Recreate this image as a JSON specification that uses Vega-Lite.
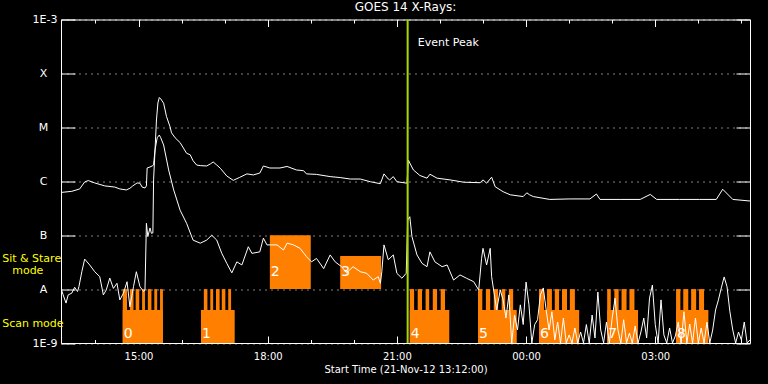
{
  "$schema": "https://vega.github.io/schema/vega-lite/v6.json",
  "width": 689,
  "height": 323.5,
  "autosize": {"type": "none"},
  "padding": {"left": 61, "top": 19.5, "right": 18, "bottom": 41},
  "background": "black",
  "config": {
    "view": {"stroke": "white", "strokeWidth": 1},
    "font": "DejaVu Sans",
    "axis": {"domain": false, "labelColor": "white", "tickColor": "white", "titleColor": "white", "labelFont": "DejaVu Sans", "titleFont": "DejaVu Sans", "titleFontWeight": "normal"}
  },
  "title": {"text": "GOES 14 X-Rays:", "color": "white", "fontSize": 12, "fontWeight": "normal", "font": "DejaVu Sans", "frame": "group", "anchor": "middle", "baseline": "middle", "offset": -5},
  "datasets": {
    "upper": [
      {"t":"2012-11-21T13:12","f":6.2e-7},{"t":"2012-11-21T13:27","f":6.5e-7},{"t":"2012-11-21T13:38","f":7.2e-7},{"t":"2012-11-21T13:45","f":9.7e-7},{"t":"2012-11-21T13:50","f":1.03e-6},{"t":"2012-11-21T13:59","f":9.3e-7},{"t":"2012-11-21T14:13","f":8.2e-7},{"t":"2012-11-21T14:27","f":7.8e-7},{"t":"2012-11-21T14:34","f":7.2e-7},{"t":"2012-11-21T14:43","f":6.9e-7},{"t":"2012-11-21T14:48","f":7.4e-7},{"t":"2012-11-21T14:52","f":8.2e-7},{"t":"2012-11-21T14:58","f":9.3e-7},{"t":"2012-11-21T15:02","f":9.2e-7},{"t":"2012-11-21T15:05","f":7.8e-7},{"t":"2012-11-21T15:09","f":7.5e-7},{"t":"2012-11-21T15:11","f":8.2e-7},{"t":"2012-11-21T15:12","f":1.76e-6},{"t":"2012-11-21T15:16","f":1.84e-6},{"t":"2012-11-21T15:19","f":1.92e-6},{"t":"2012-11-21T15:21","f":2.01e-6},{"t":"2012-11-21T15:23","f":3.81e-6},{"t":"2012-11-21T15:25","f":1.37e-5},{"t":"2012-11-21T15:27","f":2.83e-5},{"t":"2012-11-21T15:29","f":3.58e-5},{"t":"2012-11-21T15:31","f":3.36e-5},{"t":"2012-11-21T15:35","f":2.8e-5},{"t":"2012-11-21T15:39","f":1.58e-5},{"t":"2012-11-21T15:44","f":1.02e-5},{"t":"2012-11-21T15:46","f":7.9e-6},{"t":"2012-11-21T15:51","f":6.4e-6},{"t":"2012-11-21T15:58","f":5.2e-6},{"t":"2012-11-21T16:07","f":3.3e-6},{"t":"2012-11-21T16:12","f":3.1e-6},{"t":"2012-11-21T16:16","f":2.4e-6},{"t":"2012-11-21T16:21","f":2.0e-6},{"t":"2012-11-21T16:26","f":1.95e-6},{"t":"2012-11-21T16:35","f":1.92e-6},{"t":"2012-11-21T16:40","f":2.09e-6},{"t":"2012-11-21T16:44","f":2.28e-6},{"t":"2012-11-21T16:49","f":2.0e-6},{"t":"2012-11-21T16:54","f":1.74e-6},{"t":"2012-11-21T17:03","f":1.25e-6},{"t":"2012-11-21T17:12","f":1.04e-6},{"t":"2012-11-21T17:21","f":1.18e-6},{"t":"2012-11-21T17:31","f":1.37e-6},{"t":"2012-11-21T17:40","f":1.31e-6},{"t":"2012-11-21T17:49","f":1.42e-6},{"t":"2012-11-21T17:54","f":1.92e-6},{"t":"2012-11-21T18:03","f":1.76e-6},{"t":"2012-11-21T18:17","f":1.76e-6},{"t":"2012-11-21T18:27","f":1.88e-6},{"t":"2012-11-21T18:40","f":1.62e-6},{"t":"2012-11-21T18:50","f":1.57e-6},{"t":"2012-11-21T18:54","f":1.37e-6},{"t":"2012-11-21T19:08","f":1.34e-6},{"t":"2012-11-21T19:27","f":1.22e-6},{"t":"2012-11-21T19:41","f":1.17e-6},{"t":"2012-11-21T19:55","f":1.1e-6},{"t":"2012-11-21T20:09","f":1.1e-6},{"t":"2012-11-21T20:23","f":9.8e-7},{"t":"2012-11-21T20:37","f":9.0e-7},{"t":"2012-11-21T20:42","f":1.37e-6},{"t":"2012-11-21T20:48","f":1.1e-6},{"t":"2012-11-21T20:50","f":1.06e-6},{"t":"2012-11-21T20:55","f":1.22e-6},{"t":"2012-11-21T21:00","f":9.8e-7},{"t":"2012-11-21T21:14","f":9.2e-7},{"t":"2012-11-21T21:16","f":2.48e-6},{"t":"2012-11-21T21:18","f":2.18e-6},{"t":"2012-11-21T21:23","f":1.62e-6},{"t":"2012-11-21T21:32","f":1.28e-6},{"t":"2012-11-21T21:42","f":1.14e-6},{"t":"2012-11-21T21:46","f":1.35e-6},{"t":"2012-11-21T21:56","f":1.14e-6},{"t":"2012-11-21T22:14","f":1.06e-6},{"t":"2012-11-21T22:33","f":9.6e-7},{"t":"2012-11-21T22:56","f":9.4e-7},{"t":"2012-11-21T23:00","f":1.06e-6},{"t":"2012-11-21T23:05","f":9.2e-7},{"t":"2012-11-21T23:12","f":1.19e-6},{"t":"2012-11-21T23:17","f":7.9e-7},{"t":"2012-11-21T23:28","f":6.4e-7},{"t":"2012-11-21T23:38","f":5.6e-7},{"t":"2012-11-21T23:56","f":5.2e-7},{"t":"2012-11-22T00:01","f":6.1e-7},{"t":"2012-11-22T00:05","f":5.6e-7},{"t":"2012-11-22T00:10","f":5.2e-7},{"t":"2012-11-22T00:33","f":4.6e-7},{"t":"2012-11-22T01:01","f":4.7e-7},{"t":"2012-11-22T01:29","f":4.7e-7},{"t":"2012-11-22T01:38","f":5.8e-7},{"t":"2012-11-22T01:43","f":4.6e-7},{"t":"2012-11-22T02:11","f":4.6e-7},{"t":"2012-11-22T02:39","f":4.6e-7},{"t":"2012-11-22T02:53","f":5.7e-7},{"t":"2012-11-22T03:02","f":4.6e-7},{"t":"2012-11-22T03:34","f":4.6e-7},{"t":"2012-11-22T04:02","f":4.6e-7},{"t":"2012-11-22T04:25","f":4.6e-7},{"t":"2012-11-22T04:34","f":7.1e-7},{"t":"2012-11-22T04:48","f":4.6e-7},{"t":"2012-11-22T05:12","f":4.3e-7}
    ],
    "lower": [
      {"t":"2012-11-21T13:12","f":1.03e-8},{"t":"2012-11-21T13:15","f":7.8e-9},{"t":"2012-11-21T13:19","f":5.5e-9},{"t":"2012-11-21T13:22","f":7.8e-9},{"t":"2012-11-21T13:27","f":8.4e-9},{"t":"2012-11-21T13:31","f":1.08e-8},{"t":"2012-11-21T13:35","f":9.0e-9},{"t":"2012-11-21T13:37","f":1.11e-8},{"t":"2012-11-21T13:41","f":2.1e-8},{"t":"2012-11-21T13:45","f":3.6e-8},{"t":"2012-11-21T13:52","f":2.8e-8},{"t":"2012-11-21T13:59","f":2.1e-8},{"t":"2012-11-21T14:06","f":1.7e-8},{"t":"2012-11-21T14:11","f":7.8e-9},{"t":"2012-11-21T14:15","f":9.6e-9},{"t":"2012-11-21T14:20","f":1.6e-8},{"t":"2012-11-21T14:25","f":1.03e-8},{"t":"2012-11-21T14:30","f":1.28e-8},{"t":"2012-11-21T14:34","f":6.3e-9},{"t":"2012-11-21T14:39","f":8.4e-9},{"t":"2012-11-21T14:44","f":1.37e-8},{"t":"2012-11-21T14:48","f":4.7e-9},{"t":"2012-11-21T14:53","f":1.11e-8},{"t":"2012-11-21T14:57","f":2.1e-8},{"t":"2012-11-21T15:02","f":1.11e-8},{"t":"2012-11-21T15:07","f":9.0e-9},{"t":"2012-11-21T15:09","f":9.6e-9},{"t":"2012-11-21T15:11","f":1.66e-7},{"t":"2012-11-21T15:13","f":9.4e-8},{"t":"2012-11-21T15:16","f":1.36e-7},{"t":"2012-11-21T15:18","f":1.08e-7},{"t":"2012-11-21T15:20","f":1.1e-7},{"t":"2012-11-21T15:21","f":1.06e-6},{"t":"2012-11-21T15:23","f":3.8e-6},{"t":"2012-11-21T15:26","f":6.4e-6},{"t":"2012-11-21T15:29","f":7.2e-6},{"t":"2012-11-21T15:31","f":6.4e-6},{"t":"2012-11-21T15:35","f":4.7e-6},{"t":"2012-11-21T15:42","f":1.62e-6},{"t":"2012-11-21T15:49","f":6.9e-7},{"t":"2012-11-21T15:58","f":2.9e-7},{"t":"2012-11-21T16:07","f":1.66e-7},{"t":"2012-11-21T16:16","f":8.1e-8},{"t":"2012-11-21T16:26","f":7.1e-8},{"t":"2012-11-21T16:35","f":8.1e-8},{"t":"2012-11-21T16:42","f":1.0e-7},{"t":"2012-11-21T16:49","f":8.1e-8},{"t":"2012-11-21T16:56","f":4.6e-8},{"t":"2012-11-21T17:03","f":3.0e-8},{"t":"2012-11-21T17:10","f":2.0e-8},{"t":"2012-11-21T17:17","f":3.2e-8},{"t":"2012-11-21T17:24","f":2.8e-8},{"t":"2012-11-21T17:33","f":6.1e-8},{"t":"2012-11-21T17:38","f":4.6e-8},{"t":"2012-11-21T17:49","f":4.9e-8},{"t":"2012-11-21T17:54","f":8.8e-8},{"t":"2012-11-21T17:59","f":6.6e-8},{"t":"2012-11-21T18:13","f":6.6e-8},{"t":"2012-11-21T18:22","f":5.3e-8},{"t":"2012-11-21T18:27","f":7.1e-8},{"t":"2012-11-21T18:36","f":6.6e-8},{"t":"2012-11-21T18:45","f":5.7e-8},{"t":"2012-11-21T18:54","f":4.0e-8},{"t":"2012-11-21T19:01","f":3.2e-8},{"t":"2012-11-21T19:08","f":3.7e-8},{"t":"2012-11-21T19:18","f":2.4e-8},{"t":"2012-11-21T19:27","f":4.3e-8},{"t":"2012-11-21T19:34","f":3.2e-8},{"t":"2012-11-21T19:43","f":2.6e-8},{"t":"2012-11-21T19:50","f":2.0e-8},{"t":"2012-11-21T19:59","f":2.6e-8},{"t":"2012-11-21T20:09","f":2.1e-8},{"t":"2012-11-21T20:18","f":1.96e-8},{"t":"2012-11-21T20:27","f":1.47e-8},{"t":"2012-11-21T20:34","f":1.7e-8},{"t":"2012-11-21T20:37","f":1.28e-8},{"t":"2012-11-21T20:39","f":2.1e-8},{"t":"2012-11-21T20:42","f":6.6e-8},{"t":"2012-11-21T20:48","f":3.5e-8},{"t":"2012-11-21T20:55","f":4.3e-8},{"t":"2012-11-21T21:00","f":1.96e-8},{"t":"2012-11-21T21:07","f":1.59e-8},{"t":"2012-11-21T21:13","f":1.96e-8},{"t":"2012-11-21T21:15","f":1.9e-7},{"t":"2012-11-21T21:18","f":2.2e-7},{"t":"2012-11-21T21:21","f":9.4e-8},{"t":"2012-11-21T21:28","f":4.3e-8},{"t":"2012-11-21T21:35","f":3.0e-8},{"t":"2012-11-21T21:42","f":2.6e-8},{"t":"2012-11-21T21:46","f":4.9e-8},{"t":"2012-11-21T21:53","f":3.2e-8},{"t":"2012-11-21T22:03","f":2.6e-8},{"t":"2012-11-21T22:10","f":2.8e-8},{"t":"2012-11-21T22:19","f":1.47e-8},{"t":"2012-11-21T22:28","f":1.83e-8},{"t":"2012-11-21T22:37","f":1.59e-8},{"t":"2012-11-21T22:47","f":1.37e-8},{"t":"2012-11-21T22:54","f":9.6e-9},{"t":"2012-11-21T22:58","f":3.7e-8},{"t":"2012-11-21T23:00","f":5.7e-8},{"t":"2012-11-21T23:05","f":2.8e-8},{"t":"2012-11-21T23:10","f":5.7e-8},{"t":"2012-11-21T23:12","f":1.7e-8},{"t":"2012-11-21T23:19","f":4.1e-9},
      {"t":"2012-11-21T23:24","f":9.6e-9},{"t":"2012-11-21T23:28","f":6.3e-9},{"t":"2012-11-21T23:32","f":2.9e-9},{"t":"2012-11-21T23:36","f":7.8e-9},{"t":"2012-11-21T23:40","f":1e-9},{"t":"2012-11-21T23:44","f":3.3e-9},{"t":"2012-11-21T23:48","f":1.74e-9},{"t":"2012-11-21T23:52","f":5.1e-9},{"t":"2012-11-21T23:56","f":2.2e-9},
      {"t":"2012-11-22T00:00","f":1.35e-8},{"t":"2012-11-22T00:04","f":5.1e-9},{"t":"2012-11-22T00:08","f":1e-9},{"t":"2012-11-22T00:12","f":2.2e-9},{"t":"2012-11-22T00:16","f":2.7e-9},{"t":"2012-11-22T00:20","f":7.8e-9},{"t":"2012-11-22T00:24","f":1.05e-8},{"t":"2012-11-22T00:28","f":4.1e-9},{"t":"2012-11-22T00:32","f":1.74e-9},{"t":"2012-11-22T00:36","f":3.8e-9},{"t":"2012-11-22T00:40","f":1.14e-9},{"t":"2012-11-22T00:44","f":2.45e-9},{"t":"2012-11-22T00:48","f":1e-9},{"t":"2012-11-22T00:52","f":2.9e-9},{"t":"2012-11-22T00:56","f":1e-9},
      {"t":"2012-11-22T01:00","f":1.41e-9},{"t":"2012-11-22T01:04","f":1e-9},{"t":"2012-11-22T01:08","f":1.9e-9},{"t":"2012-11-22T01:12","f":1e-9},{"t":"2012-11-22T01:16","f":1.6e-9},{"t":"2012-11-22T01:20","f":1e-9},{"t":"2012-11-22T01:24","f":2.2e-9},{"t":"2012-11-22T01:28","f":1e-9},{"t":"2012-11-22T01:32","f":3.3e-9},{"t":"2012-11-22T01:36","f":1.24e-9},{"t":"2012-11-22T01:40","f":8.8e-9},{"t":"2012-11-22T01:44","f":1.74e-9},{"t":"2012-11-22T01:48","f":1e-9},{"t":"2012-11-22T01:52","f":2.45e-9},{"t":"2012-11-22T01:56","f":1e-9},
      {"t":"2012-11-22T02:00","f":2.9e-9},{"t":"2012-11-22T02:04","f":6.8e-9},{"t":"2012-11-22T02:08","f":1.74e-9},{"t":"2012-11-22T02:12","f":1e-9},{"t":"2012-11-22T02:16","f":2.7e-9},{"t":"2012-11-22T02:20","f":1e-9},{"t":"2012-11-22T02:24","f":1.53e-9},{"t":"2012-11-22T02:28","f":1e-9},{"t":"2012-11-22T02:32","f":2.07e-9},{"t":"2012-11-22T02:36","f":1e-9},{"t":"2012-11-22T02:40","f":1.6e-9},{"t":"2012-11-22T02:44","f":2.9e-9},{"t":"2012-11-22T02:48","f":1.24e-9},{"t":"2012-11-22T02:52","f":6.8e-9},{"t":"2012-11-22T02:56","f":1.19e-8},
      {"t":"2012-11-22T03:00","f":2.2e-9},{"t":"2012-11-22T03:04","f":1e-9},{"t":"2012-11-22T03:08","f":6.3e-9},{"t":"2012-11-22T03:12","f":1.41e-9},{"t":"2012-11-22T03:16","f":1e-9},{"t":"2012-11-22T03:20","f":1.9e-9},{"t":"2012-11-22T03:24","f":1e-9},{"t":"2012-11-22T03:28","f":1.35e-9},{"t":"2012-11-22T03:32","f":2.45e-9},{"t":"2012-11-22T03:36","f":1e-9},{"t":"2012-11-22T03:40","f":3.8e-9},{"t":"2012-11-22T03:44","f":1e-9},{"t":"2012-11-22T03:48","f":2.25e-9},{"t":"2012-11-22T03:52","f":1e-9},{"t":"2012-11-22T03:56","f":2.9e-9},
      {"t":"2012-11-22T04:00","f":1e-9},{"t":"2012-11-22T04:04","f":1.9e-9},{"t":"2012-11-22T04:08","f":1e-9},{"t":"2012-11-22T04:12","f":2.45e-9},{"t":"2012-11-22T04:16","f":1e-9},{"t":"2012-11-22T04:20","f":1.74e-9},{"t":"2012-11-22T04:24","f":4.1e-9},{"t":"2012-11-22T04:28","f":6.3e-9},{"t":"2012-11-22T04:32","f":1.05e-8},{"t":"2012-11-22T04:36","f":1.68e-8},{"t":"2012-11-22T04:40","f":1.1e-8},{"t":"2012-11-22T04:44","f":3.8e-9},{"t":"2012-11-22T04:48","f":1.74e-9},{"t":"2012-11-22T04:52","f":1e-9},{"t":"2012-11-22T04:56","f":1.6e-9},
      {"t":"2012-11-22T05:00","f":1.14e-9},{"t":"2012-11-22T05:04","f":2.45e-9},{"t":"2012-11-22T05:08","f":1e-9},{"t":"2012-11-22T05:12","f":1.14e-9}
    ],
    "blocks": [
      {"s":"2012-11-21T14:38","e":"2012-11-21T15:34","lo":1e-9,"hi":4.1e-9},
      {"s":"2012-11-21T14:38","e":"2012-11-21T14:44","lo":1e-9,"hi":1e-8},{"s":"2012-11-21T14:48","e":"2012-11-21T14:53","lo":1e-9,"hi":1e-8},{"s":"2012-11-21T14:56","e":"2012-11-21T15:01","lo":1e-9,"hi":1e-8},{"s":"2012-11-21T15:05","e":"2012-11-21T15:09","lo":1e-9,"hi":1e-8},{"s":"2012-11-21T15:13","e":"2012-11-21T15:18","lo":1e-9,"hi":1e-8},{"s":"2012-11-21T15:22","e":"2012-11-21T15:26","lo":1e-9,"hi":1e-8},{"s":"2012-11-21T15:30","e":"2012-11-21T15:34","lo":1e-9,"hi":1e-8},
      {"s":"2012-11-21T16:27","e":"2012-11-21T17:14","lo":1e-9,"hi":4.1e-9},
      {"s":"2012-11-21T16:31","e":"2012-11-21T16:36","lo":1e-9,"hi":1e-8},{"s":"2012-11-21T16:40","e":"2012-11-21T16:44","lo":1e-9,"hi":1e-8},{"s":"2012-11-21T16:48","e":"2012-11-21T16:53","lo":1e-9,"hi":1e-8},{"s":"2012-11-21T16:56","e":"2012-11-21T17:01","lo":1e-9,"hi":1e-8},{"s":"2012-11-21T17:05","e":"2012-11-21T17:09","lo":1e-9,"hi":1e-8},
      {"s":"2012-11-21T18:03","e":"2012-11-21T19:00","lo":1e-8,"hi":1e-7},
      {"s":"2012-11-21T19:41","e":"2012-11-21T20:38","lo":1e-8,"hi":4.1e-8},
      {"s":"2012-11-21T21:18","e":"2012-11-21T22:13","lo":1e-9,"hi":4.1e-9},
      {"s":"2012-11-21T21:18","e":"2012-11-21T21:24","lo":1e-9,"hi":1e-8},{"s":"2012-11-21T21:29","e":"2012-11-21T21:35","lo":1e-9,"hi":1e-8},{"s":"2012-11-21T21:40","e":"2012-11-21T21:45","lo":1e-9,"hi":1e-8},{"s":"2012-11-21T21:50","e":"2012-11-21T21:56","lo":1e-9,"hi":1e-8},{"s":"2012-11-21T22:01","e":"2012-11-21T22:07","lo":1e-9,"hi":1e-8},
      {"s":"2012-11-21T22:53","e":"2012-11-21T23:47","lo":1e-9,"hi":4.1e-9},
      {"s":"2012-11-21T22:53","e":"2012-11-21T22:59","lo":1e-9,"hi":1e-8},{"s":"2012-11-21T23:04","e":"2012-11-21T23:10","lo":1e-9,"hi":1e-8},{"s":"2012-11-21T23:15","e":"2012-11-21T23:21","lo":1e-9,"hi":1e-8},{"s":"2012-11-21T23:26","e":"2012-11-21T23:31","lo":1e-9,"hi":1e-8},{"s":"2012-11-21T23:36","e":"2012-11-21T23:42","lo":1e-9,"hi":1e-8},
      {"s":"2012-11-22T00:18","e":"2012-11-22T01:14","lo":1e-9,"hi":4.1e-9},
      {"s":"2012-11-22T00:18","e":"2012-11-22T00:25","lo":1e-9,"hi":1e-8},{"s":"2012-11-22T00:29","e":"2012-11-22T00:36","lo":1e-9,"hi":1e-8},{"s":"2012-11-22T00:40","e":"2012-11-22T00:46","lo":1e-9,"hi":1e-8},{"s":"2012-11-22T00:50","e":"2012-11-22T00:57","lo":1e-9,"hi":1e-8},{"s":"2012-11-22T01:01","e":"2012-11-22T01:08","lo":1e-9,"hi":1e-8},
      {"s":"2012-11-22T01:53","e":"2012-11-22T02:36","lo":1e-9,"hi":4.1e-9},
      {"s":"2012-11-22T01:53","e":"2012-11-22T01:58","lo":1e-9,"hi":1e-8},{"s":"2012-11-22T02:03","e":"2012-11-22T02:09","lo":1e-9,"hi":1e-8},{"s":"2012-11-22T02:13","e":"2012-11-22T02:20","lo":1e-9,"hi":1e-8},{"s":"2012-11-22T02:24","e":"2012-11-22T02:31","lo":1e-9,"hi":1e-8},
      {"s":"2012-11-22T03:29","e":"2012-11-22T04:14","lo":1e-9,"hi":4.1e-9},
      {"s":"2012-11-22T03:29","e":"2012-11-22T03:35","lo":1e-9,"hi":1e-8},{"s":"2012-11-22T03:39","e":"2012-11-22T03:46","lo":1e-9,"hi":1e-8},{"s":"2012-11-22T03:50","e":"2012-11-22T03:57","lo":1e-9,"hi":1e-8},{"s":"2012-11-22T04:01","e":"2012-11-22T04:08","lo":1e-9,"hi":1e-8}
    ],
    "nums": [
      {"label":"0","t":"2012-11-21T14:38","f":1.5e-9},{"label":"1","t":"2012-11-21T16:27","f":1.5e-9},{"label":"2","t":"2012-11-21T18:03","f":2.05e-8},{"label":"3","t":"2012-11-21T19:41","f":2.05e-8},{"label":"4","t":"2012-11-21T21:18","f":1.5e-9},{"label":"5","t":"2012-11-21T22:53","f":1.5e-9},{"label":"6","t":"2012-11-22T00:18","f":1.5e-9},{"label":"7","t":"2012-11-22T01:53","f":1.5e-9},{"label":"8","t":"2012-11-22T03:29","f":1.5e-9}
    ],
    "side": [
      {"label":"Sit & Stare","t":"2012-11-21T11:50","f":3.6e-8},{"label":"mode","t":"2012-11-21T12:04","f":2.17e-8},{"label":"Scan mode","t":"2012-11-21T11:50","f":2.25e-9}
    ]
  },
  "layer": [
    {
      "data": {"name": "blocks"},
      "mark": {"type": "rect", "color": "#ff8000"},
      "encoding": {
        "x": {"field": "s", "type": "temporal",
          "scale": {"domain": [{"year":2012,"month":11,"date":21,"hours":13,"minutes":12},{"year":2012,"month":11,"date":22,"hours":5,"minutes":12}], "nice": false},
          "axis": {"orient": "bottom", "title": "Start Time (21-Nov-12 13:12:00)", "titleFontSize": 10, "titlePadding": 0, "grid": false,
            "values": [{"year":2012,"month":11,"date":21,"hours":14},{"year":2012,"month":11,"date":21,"hours":15},{"year":2012,"month":11,"date":21,"hours":16},{"year":2012,"month":11,"date":21,"hours":17},{"year":2012,"month":11,"date":21,"hours":18},{"year":2012,"month":11,"date":21,"hours":19},{"year":2012,"month":11,"date":21,"hours":20},{"year":2012,"month":11,"date":21,"hours":21},{"year":2012,"month":11,"date":21,"hours":22},{"year":2012,"month":11,"date":21,"hours":23},{"year":2012,"month":11,"date":22,"hours":0},{"year":2012,"month":11,"date":22,"hours":1},{"year":2012,"month":11,"date":22,"hours":2},{"year":2012,"month":11,"date":22,"hours":3},{"year":2012,"month":11,"date":22,"hours":4},{"year":2012,"month":11,"date":22,"hours":5}],
            "labelExpr": "hours(datum.value) % 3 === 0 ? timeFormat(datum.value, '%H:%M') : ''",
            "tickSize": {"condition": {"test": "hours(datum.value) % 3 === 0", "value": -7}, "value": -3.5},
            "labelPadding": 15, "labelFontSize": 10, "labelBaseline": "top", "labelFlush": false, "labelOverlap": false}},
        "x2": {"field": "e"},
        "y": {"field": "lo", "type": "quantitative",
          "scale": {"type": "log", "domain": [1e-9, 1e-3], "nice": false},
          "axis": {"orient": "left", "title": null, "grid": true, "gridColor": "white", "gridDash": [1, 5], "gridWidth": 1,
            "values": [1e-9, 1e-8, 1e-7, 1e-6, 1e-5, 1e-4, 1e-3],
            "labelExpr": "datum.value >= 5e-4 ? '1E-3' : datum.value >= 5e-5 ? 'X' : datum.value >= 5e-6 ? 'M' : datum.value >= 5e-7 ? 'C' : datum.value >= 5e-8 ? 'B' : datum.value >= 5e-9 ? 'A' : '1E-9'",
            "tickSize": -14, "labelFontSize": 11, "labelBaseline": "middle",
            "labelAlign": {"condition": {"test": "datum.value < 2e-9 || datum.value > 5e-4", "value": "right"}, "value": "center"},
            "labelPadding": {"condition": {"test": "datum.value < 2e-9 || datum.value > 5e-4", "value": 18}, "value": 32},
            "labelFlush": false, "labelOverlap": false}},
        "y2": {"field": "hi"}
      }
    },
    {
      "data": {"name": "nums"},
      "mark": {"type": "text", "color": "white", "fontSize": 14, "align": "left", "baseline": "middle", "dx": 1, "clip": false},
      "encoding": {
        "x": {"field": "t", "type": "temporal", "axis": null},
        "y": {"field": "f", "type": "quantitative", "axis": null},
        "text": {"field": "label"}
      }
    },
    {
      "data": {"name": "upper"},
      "mark": {"type": "line", "color": "white", "strokeWidth": 1, "clip": true},
      "encoding": {
        "x": {"field": "t", "type": "temporal",
          "axis": {"orient": "top", "title": null, "labels": false, "grid": false,
            "values": [{"year":2012,"month":11,"date":21,"hours":14},{"year":2012,"month":11,"date":21,"hours":15},{"year":2012,"month":11,"date":21,"hours":16},{"year":2012,"month":11,"date":21,"hours":17},{"year":2012,"month":11,"date":21,"hours":18},{"year":2012,"month":11,"date":21,"hours":19},{"year":2012,"month":11,"date":21,"hours":20},{"year":2012,"month":11,"date":21,"hours":21},{"year":2012,"month":11,"date":21,"hours":22},{"year":2012,"month":11,"date":21,"hours":23},{"year":2012,"month":11,"date":22,"hours":0},{"year":2012,"month":11,"date":22,"hours":1},{"year":2012,"month":11,"date":22,"hours":2},{"year":2012,"month":11,"date":22,"hours":3},{"year":2012,"month":11,"date":22,"hours":4},{"year":2012,"month":11,"date":22,"hours":5}],
            "tickSize": {"condition": {"test": "hours(datum.value) % 3 === 0", "value": -7}, "value": -3.5}}},
        "y": {"field": "f", "type": "quantitative",
          "axis": {"orient": "right", "title": null, "labels": false, "grid": false, "values": [1e-9, 1e-8, 1e-7, 1e-6, 1e-5, 1e-4, 1e-3], "tickSize": -14}}
      }
    },
    {
      "data": {"name": "lower"},
      "mark": {"type": "line", "color": "white", "strokeWidth": 1, "clip": true},
      "encoding": {
        "x": {"field": "t", "type": "temporal", "axis": null},
        "y": {"field": "f", "type": "quantitative", "axis": null}
      }
    },
    {
      "data": {"values": [{"t": "2012-11-21T21:15"}]},
      "mark": {"type": "rule", "color": "#a8d800", "strokeWidth": 2},
      "encoding": {
        "x": {"field": "t", "type": "temporal", "axis": null}
      }
    },
    {
      "data": {"values": [{"label": "Event Peak", "t": "2012-11-21T21:29", "f": 3.7e-4}]},
      "mark": {"type": "text", "color": "white", "fontSize": 11, "align": "left", "baseline": "middle", "clip": false},
      "encoding": {
        "x": {"field": "t", "type": "temporal", "axis": null},
        "y": {"field": "f", "type": "quantitative", "axis": null},
        "text": {"field": "label"}
      }
    },
    {
      "data": {"name": "side"},
      "mark": {"type": "text", "color": "#ffff00", "fontSize": 11, "align": "left", "baseline": "middle", "clip": false},
      "encoding": {
        "x": {"field": "t", "type": "temporal", "axis": null},
        "y": {"field": "f", "type": "quantitative", "axis": null},
        "text": {"field": "label"}
      }
    }
  ],
  "resolve": {"axis": {"x": "independent", "y": "independent"}}
}
